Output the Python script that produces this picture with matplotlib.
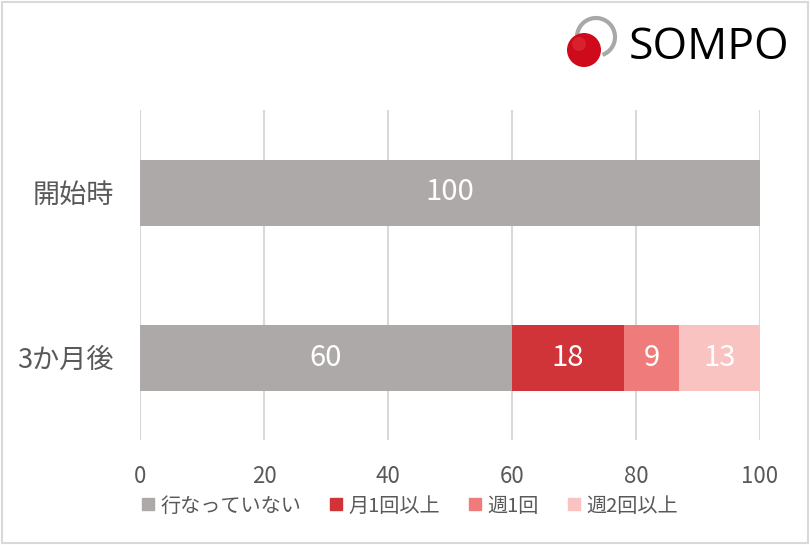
import numpy as np
import matplotlib
matplotlib.use('Agg')
import matplotlib.pyplot as plt
import matplotlib.patches as mpatches
from matplotlib.lines import Line2D

plt.rcParams['font.family'] = ['Noto Sans CJK JP', 'DejaVu Sans']

# ── data ──
categories = ['開始時', '3か月後']
series_names = ['行なっていない', '月1回以上', '週1回', '週2回以上']
values = {
    '行なっていない': [100, 60],
    '月1回以上':     [0, 18],
    '週1回':         [0, 9],
    '週2回以上':     [0, 13],
}
x_ticks = [0, 20, 40, 60, 80, 100]

colors = ['#ADA9A8', '#D13438', '#F07B7B', '#F8C3C1']
TextGray = '#595959'
W, H = 810, 545

fig = plt.figure(figsize=(W / 100, H / 100), dpi=100)
fig.patch.set_facecolor('white')

# outer frame
fig.add_artist(mpatches.Rectangle((0.002, 0.003), 0.995, 0.993, transform=fig.transFigure,
                                  fill=False, edgecolor='#D9D9D9', linewidth=1.5))

ax = fig.add_axes([140 / W, 1 - 440 / H, 620 / W, 330 / H])
y = np.arange(len(categories))
left = np.zeros(len(categories))
for name, c in zip(series_names, colors):
    v = np.array(values[name], dtype=float)
    ax.barh(y, v, left=left, height=0.4, color=c, label=name, zorder=3)
    for yi, (l, w) in enumerate(zip(left, v)):
        if w > 0:
            ax.text(l + w / 2, yi, f'{w:g}', ha='center', va='center',
                    color='white', fontsize=21, zorder=4)
    left += v

ax.set_xlim(0, 100)
ax.set_ylim(1.5, -0.5)
ax.set_xticks(x_ticks)
ax.set_yticks(y)
ax.set_yticklabels(categories)
ax.tick_params(axis='x', length=0, pad=18, labelsize=16, labelcolor=TextGray)
ax.tick_params(axis='y', length=0, pad=19, labelsize=19.5, labelcolor=TextGray)
ax.grid(axis='x', color='#D9D9D9', linewidth=1.5, zorder=0)
for s in ax.spines.values():
    s.set_visible(False)

handles = [Line2D([], [], marker='s', linestyle='none', markersize=8,
                  markerfacecolor=c, markeredgecolor=c) for c in colors]
fig.legend(handles, series_names, loc='center left', bbox_to_anchor=(132 / W, 1 - 506 / H),
           ncol=4, frameon=False, fontsize=14.5, labelcolor=TextGray,
           handlelength=0.6, handletextpad=0.3, columnspacing=1.45, borderpad=0)

# logo (pixel coordinates, y up)
lax = fig.add_axes([555 / W, 1 - 80 / H, 70 / W, 70 / H])
lax.set_xlim(555, 625)
lax.set_ylim(H - 80, H - 10)
lax.set_aspect('equal')
lax.axis('off')
lax.add_patch(mpatches.Arc((596, H - 37), 38, 38, theta1=-70, theta2=200,
                           edgecolor='#A8A8A8', linewidth=3))
lax.add_patch(mpatches.Circle((584, H - 50), 17, facecolor='#CF0A1A', edgecolor='none'))
lax.add_patch(mpatches.Circle((579, H - 44), 7, facecolor='#E0303A', edgecolor='none', alpha=0.6))
fig.text(629 / W, 1 - 48 / H, 'SOMPO', fontsize=32, family='Open Sans',
         color='black', ha='left', va='center')

fig.savefig('out.png', dpi=100)
